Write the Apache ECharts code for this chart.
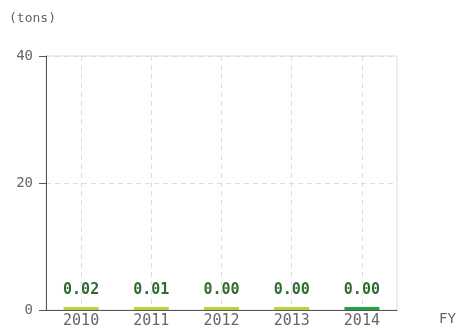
<!DOCTYPE html>
<html><head><meta charset="utf-8">
<script src="https://cdn.jsdelivr.net/npm/echarts@6/dist/echarts.min.js"></script>
<style>html,body{margin:0;padding:0;background:#fff}#c{width:456px;height:333px}</style>
</head><body><div id="c"></div>
<script>
const categories = ['2010','2011','2012','2013','2014'];
const values = [0.02, 0.01, 0.00, 0.00, 0.00];
const yTicks = [0, 20, 40];
const barColors = ['#b7d43a','#b7d43a','#b7d43a','#b7d43a','#1fa53f'];

const chart = echarts.init(document.getElementById('c'));
const font = '"DejaVu Sans Mono", monospace';
chart.setOption({
  animation: false,
  grid: {left: 46, right: 59, top: 56, bottom: 23, show: true, borderColor: '#dddddd', borderWidth: 1},
  graphic: [
    {type: 'text', left: 9, top: 12, style: {text: '(tons)', font: '13px ' + font, fill: '#666'}},
    {type: 'text', left: 439, top: 312, style: {text: 'FY', font: '14px ' + font, fill: '#666'}}
  ],
  xAxis: [{
    type: 'category', data: categories,
    axisLine: {lineStyle: {color: '#555'}},
    axisTick: {show: false},
    axisLabel: {color: '#666', fontFamily: font, fontSize: 15, margin: 4},
    splitLine: {show: false}
  }, {
    type: 'category', position: 'bottom', boundaryGap: false,
    data: ['a','b','c','d','e','f','g','h','i','j','k'],
    axisLine: {show: false}, axisTick: {show: false}, axisLabel: {show: false},
    splitLine: {show: true, interval: function(i){ return i % 2 === 1; }, lineStyle: {color: '#dddddd', type: [5, 4]}}
  }],
  yAxis: {
    type: 'value', min: 0, max: 40, interval: 20,
    axisLine: {show: true, lineStyle: {color: '#555'}},
    axisTick: {show: true, length: 7, lineStyle: {color: '#555'}},
    axisLabel: {color: '#666', fontFamily: font, fontSize: 14, margin: 13,
      formatter: function(v){ return yTicks.indexOf(v) >= 0 ? String(v) : ''; }},
    splitLine: {show: true, lineStyle: {color: '#dddddd', type: [5, 4]}}
  },
  series: [{
    type: 'bar', xAxisIndex: 0, barWidth: 35, barMinHeight: 3,
    data: values.map((v, i) => ({value: v, itemStyle: {color: barColors[i]}})),
    label: {show: true, position: 'top', distance: 9,
      formatter: p => p.value.toFixed(2),
      color: '#2f6b2f', fontFamily: font, fontSize: 15, fontWeight: 'bold',
      textBorderColor: '#fff', textBorderWidth: 2}
  }]
});
</script></body></html>
